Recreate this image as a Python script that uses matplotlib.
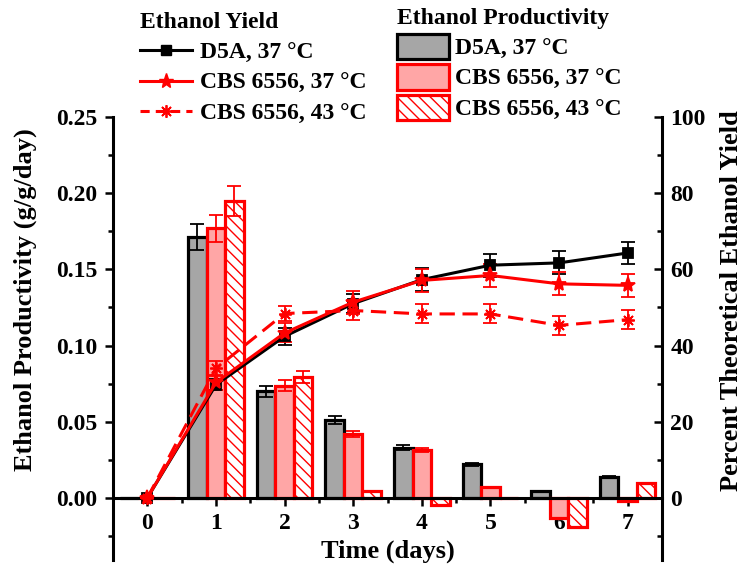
import numpy as np
import matplotlib.pyplot as plt
from matplotlib.lines import Line2D
from matplotlib.patches import Patch
from matplotlib.ticker import MultipleLocator

plt.rcParams['font.family'] = ['Liberation Serif', 'DejaVu Serif']
plt.rcParams['font.weight'] = 'bold'
plt.rcParams['axes.labelweight'] = 'bold'
plt.rcParams['font.size'] = 17
plt.rcParams['hatch.linewidth'] = 1.0

days = np.arange(8)

# productivity (g/g/day) - bars, left axis
prod_d5a = [0, 0.171, 0.070, 0.051, 0.033, 0.022, 0.0044, 0.0138]
prod_d5a_err = [0, 0.0086, 0.0036, 0.0025, 0.0015, 0.001, 0.0005, 0.0005]
prod_cbs37 = [0, 0.177, 0.0737, 0.042, 0.0316, 0.0075, -0.0132, -0.0022]
prod_cbs37_err = [0, 0.009, 0.0036, 0.002, 0.0015, 0, 0, 0]
prod_cbs43 = [0, 0.195, 0.0796, 0.0048, -0.0044, 0, -0.0193, 0.0097]
prod_cbs43_err = [0, 0.0099, 0.004, 0, 0, 0, 0, 0]

# percent theoretical yield - lines, right axis
yield_d5a = [0, 29.7, 42.4, 51.0, 57.3, 61.1, 61.7, 64.3]
yield_d5a_err = [0, 1.5, 2.2, 2.5, 3, 3, 3, 3]
yield_cbs37 = [0, 30.3, 43.3, 51.4, 57.1, 58.4, 56.2, 55.8]
yield_cbs37_err = [0, 2, 2.5, 3, 3, 3, 3, 3]
yield_cbs43 = [0, 34.0, 48.4, 49.2, 48.3, 48.3, 45.3, 46.8]
yield_cbs43_err = [0, 2, 2, 2.5, 2.5, 2.5, 2.5, 2.5]

labels = ['D5A, 37 °C', 'CBS 6556, 37 °C', 'CBS 6556, 43 °C']

grey = '#a6a6a6'
pink = '#ffa6a6'
red = '#ff0000'

fig = plt.figure(figsize=(7.47, 5.77), dpi=100)
ax = fig.add_axes([113/747, 17/577, 549/747, 443/577])
ax2 = ax.twinx()

w = 0.27
bar_sets = [
    (prod_d5a, prod_d5a_err, -w, grey, 'black', ''),
    (prod_cbs37, prod_cbs37_err, 0, pink, red, ''),
    (prod_cbs43, prod_cbs43_err, w, 'white', red, '\\\\\\'),
]
for vals, err, off, fc, ec, hatch in bar_sets:
    ax.bar(days + off, vals, w, color=fc, edgecolor=ec, linewidth=2.3, hatch=hatch, zorder=2)
    err = np.array(err)
    m = err > 0
    ax.errorbar((days + off)[m], np.array(vals)[m], yerr=err[m], fmt='none',
                ecolor=ec, elinewidth=1.3, capsize=5, capthick=1.3, zorder=3)

line_sets = [
    (yield_d5a, yield_d5a_err, 'black', '-', 's', 7),
    (yield_cbs43, yield_cbs43_err, red, (0, (5, 2.5)), (8, 2, 0), 9),
    (yield_cbs37, yield_cbs37_err, red, '-', '*', 11),
]
for vals, err, c, ls, mk, ms in line_sets:
    ax2.errorbar(days, vals, yerr=err, color=c, linestyle=ls, linewidth=2.2,
                 marker=mk, markersize=ms, markeredgewidth=1.3,
                 elinewidth=1.3, capsize=5, capthick=1.3)

ax.set_xlim(-0.5, 7.5)
ax.set_ylim(-0.0407, 0.25)
ax2.set_ylim(-16.3, 100)

ax.spines['top'].set_visible(False)
ax.spines['right'].set_visible(False)
ax.spines['bottom'].set_position(('data', 0))
for s in ['top', 'left', 'bottom']:
    ax2.spines[s].set_visible(False)
for s in ['left', 'bottom']:
    ax.spines[s].set_linewidth(2.2)
ax2.spines['right'].set_linewidth(2.2)

ax.set_xticks(days)
ax.xaxis.set_minor_locator(MultipleLocator(0.5))
ax.yaxis.set_minor_locator(MultipleLocator(0.025))
ax.set_yticks(np.arange(0, 0.26, 0.05))
ax.yaxis.set_major_formatter(plt.FormatStrFormatter('%.2f'))
ax2.set_yticks(np.arange(0, 101, 20))
ax2.yaxis.set_minor_locator(MultipleLocator(10))

ax.tick_params(axis='both', which='major', direction='out', length=6, width=1.8, pad=5)
ax.tick_params(axis='both', which='minor', direction='out', length=3.5, width=1.8)
ax2.tick_params(axis='y', which='major', direction='in', length=6, width=1.8, pad=6)
ax2.tick_params(axis='y', which='minor', direction='in', length=3.5, width=1.8)

ax.set_xlabel('Time (days)', fontsize=19)
ax.xaxis.set_label_coords(0.5, 0.045)
ax.xaxis.label.set_va('top')
fig.text(25/747, 1 - 300/577, 'Ethanol Productivity (g/g/day)', rotation=90,
         ha='center', va='center', fontsize=19)
fig.text(731/747, 1 - 301/577, 'Percent Theoretical Ethanol Yield', rotation=90,
         ha='center', va='center', fontsize=19)

line_handles = [
    Line2D([], [], color='black', lw=2.2, marker='s', ms=7),
    Line2D([], [], color=red, lw=2.2, marker='*', ms=11),
    Line2D([], [], color=red, lw=2.2, ls=(0, (3, 2)), marker=(8, 2, 0), ms=9, mew=1.3),
]
leg1 = ax2.legend(line_handles, labels, title='Ethanol Yield', loc='upper left',
                  bbox_to_anchor=(140/747, 1 - 12/577), bbox_transform=fig.transFigure,
                  frameon=False, alignment='left', borderpad=0, borderaxespad=0,
                  handlelength=2.2, handletextpad=0.35, labelspacing=0.38,
                  prop={'weight': 'bold', 'size': 17},
                  title_fontproperties={'weight': 'bold', 'size': 17})
ax2.add_artist(leg1)

bar_handles = [
    Patch(facecolor=grey, edgecolor='black', linewidth=2.3),
    Patch(facecolor=pink, edgecolor=red, linewidth=2.3),
    Patch(facecolor='white', edgecolor=red, linewidth=2.3, hatch='\\\\\\'),
]
ax2.legend(bar_handles, labels, title='Ethanol Productivity', loc='upper left',
           bbox_to_anchor=(397/747, 1 - 8/577), bbox_transform=fig.transFigure,
           frameon=False, alignment='left', borderpad=0, borderaxespad=0,
           handlelength=2.2, handleheight=1.3, handletextpad=0.25, labelspacing=0.2,
           prop={'weight': 'bold', 'size': 17},
           title_fontproperties={'weight': 'bold', 'size': 17})

fig.savefig('out.png', dpi=100)
